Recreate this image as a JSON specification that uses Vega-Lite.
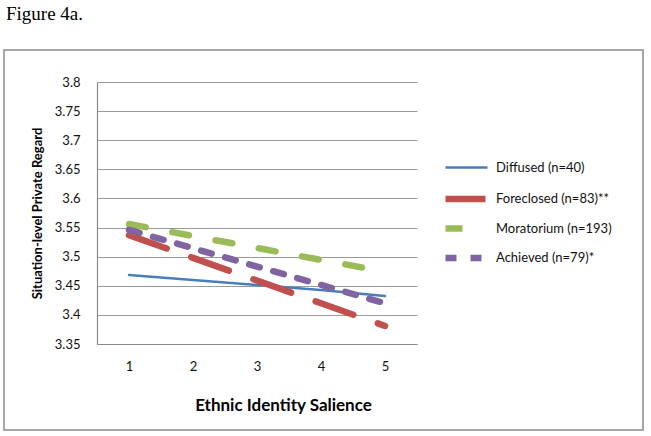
{
  "$schema": "https://vega.github.io/schema/vega-lite/v6.json",
  "autosize": {"type": "none"},
  "width": 639,
  "height": 380,
  "padding": {"left": 4, "top": 50, "right": 8, "bottom": 6},
  "background": "white",
  "title": {"text": "Figure 4a.", "anchor": "start", "frame": "group", "font": "Liberation Serif", "fontSize": 19, "fontWeight": "normal", "color": "black", "dx": 2, "offset": 26},
  "config": {"view": {"stroke": "#8a8a8a", "strokeWidth": 1.5}, "font": "Lato"},
  "data": {"values": [
    {"salience": 1, "value": 3.4685, "group": "Diffused (n=40)"},
    {"salience": 2, "value": 3.4599, "group": "Diffused (n=40)"},
    {"salience": 3, "value": 3.4513, "group": "Diffused (n=40)"},
    {"salience": 4, "value": 3.4427, "group": "Diffused (n=40)"},
    {"salience": 5, "value": 3.4324, "group": "Diffused (n=40)"},
    {"salience": 1, "value": 3.537, "group": "Foreclosed (n=83)**"},
    {"salience": 2, "value": 3.498, "group": "Foreclosed (n=83)**"},
    {"salience": 3, "value": 3.459, "group": "Foreclosed (n=83)**"},
    {"salience": 4, "value": 3.420, "group": "Foreclosed (n=83)**"},
    {"salience": 5, "value": 3.381, "group": "Foreclosed (n=83)**"},
    {"salience": 1, "value": 3.556, "group": "Moratorium (n=193)"},
    {"salience": 2, "value": 3.5355, "group": "Moratorium (n=193)"},
    {"salience": 3, "value": 3.515, "group": "Moratorium (n=193)"},
    {"salience": 4, "value": 3.4945, "group": "Moratorium (n=193)"},
    {"salience": 5, "value": 3.474, "group": "Moratorium (n=193)"},
    {"salience": 1, "value": 3.546, "group": "Achieved (n=79)*"},
    {"salience": 2, "value": 3.5145, "group": "Achieved (n=79)*"},
    {"salience": 3, "value": 3.483, "group": "Achieved (n=79)*"},
    {"salience": 4, "value": 3.4515, "group": "Achieved (n=79)*"},
    {"salience": 5, "value": 3.420, "group": "Achieved (n=79)*"}
  ]},
  "mark": {"type": "line", "strokeCap": "round"},
  "encoding": {
    "x": {
      "field": "salience", "type": "quantitative",
      "scale": {"domain": [0.5, 5.5], "range": [93, 413], "nice": false, "zero": false},
      "axis": {
        "values": [1, 2, 3, 4, 5], "format": "d", "title": "Ethnic Identity Salience",
        "offset": -86, "grid": false, "ticks": false, "tickSize": 0,
        "domainColor": "#8a8a8a", "domainWidth": 1.2,
        "labelFont": "Lato", "labelFontSize": 13, "labelColor": "#111", "labelPadding": 16,
        "titleFont": "Lato", "titleFontSize": 17, "titleFontWeight": "bold", "titleColor": "#000",
        "titleX": 279, "titleY": 61, "titleBaseline": "middle", "titleAlign": "center"
      }
    },
    "y": {
      "field": "value", "type": "quantitative",
      "scale": {"domain": [3.35, 3.8], "range": [294, 32], "nice": false, "zero": false},
      "axis": {
        "values": [3.35, 3.4, 3.45, 3.5, 3.55, 3.6, 3.65, 3.7, 3.75, 3.8], "format": "~g",
        "title": "Situation-level Private Regard",
        "offset": -93, "grid": true, "gridColor": "#9a9a9a", "gridWidth": 1,
        "ticks": false, "tickSize": 0,
        "domainColor": "#8a8a8a", "domainWidth": 1.2,
        "labelFont": "Lato", "labelFontSize": 13, "labelColor": "#111", "labelPadding": 17,
        "titleFont": "Lato", "titleFontSize": 13, "titleFontWeight": "bold", "titleColor": "#000",
        "titlePadding": 10
      }
    },
    "color": {
      "field": "group", "type": "nominal",
      "scale": {
        "domain": ["Diffused (n=40)", "Foreclosed (n=83)**", "Moratorium (n=193)", "Achieved (n=79)*"],
        "range": ["#4a7ebb", "#c0504d", "#9bbb59", "#8064a2"]
      },
      "legend": {
        "orient": "none", "legendX": 449, "legendY": 106, "title": null,
        "symbolType": "M-2.1,0H2.1", "symbolSize": 400, "gridAlign": "all", "rowPadding": 2.5,
        "labelFont": "Lato", "labelFontSize": 13, "labelColor": "#111", "labelOffset": 16
      }
    },
    "strokeDash": {
      "field": "group", "type": "nominal",
      "scale": {
        "domain": ["Diffused (n=40)", "Foreclosed (n=83)**", "Moratorium (n=193)", "Achieved (n=79)*"],
        "range": [[1, 0], [40, 26], [17, 27], [11, 14]]
      }
    },
    "strokeWidth": {
      "field": "group", "type": "nominal",
      "scale": {
        "type": "ordinal",
        "domain": ["Diffused (n=40)", "Foreclosed (n=83)**", "Moratorium (n=193)", "Achieved (n=79)*"],
        "range": [2.5, 6.5, 6.5, 6.5]
      }
    }
  }
}
